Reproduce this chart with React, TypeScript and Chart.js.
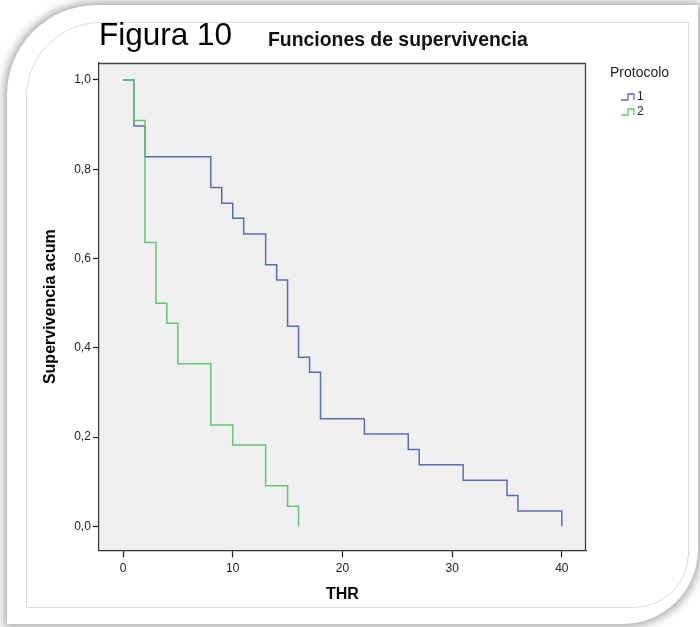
import React, { useEffect, useRef } from "react";
import { Chart, registerables } from "chart.js";

Chart.register(...registerables);

// Kaplan-Meier data
const times1 = [0, 1, 2, 8, 9, 10, 11, 13, 14, 15, 16, 17, 18, 22, 26, 27, 31, 35, 36, 40];
const surv1 = [1, 0.897, 0.828, 0.759, 0.724, 0.69, 0.655, 0.586, 0.552, 0.448, 0.379, 0.345, 0.241, 0.207, 0.172, 0.138, 0.103, 0.069, 0.034, 0];
const times2 = [0, 1, 2, 3, 4, 5, 8, 10, 13, 15, 16];
const surv2 = [1, 0.909, 0.636, 0.5, 0.455, 0.364, 0.227, 0.182, 0.091, 0.045, 0];
const groupLabels = ["1", "2"];
const xTicks = [0, 10, 20, 30, 40];
const yTicks = [0, 0.2, 0.4, 0.6, 0.8, 1.0];

const BLUE = "#5b6db2";
const GREEN = "#62c672";
const FONT = "'Liberation Sans', Arial, sans-serif";

const plotFrame = {
  id: "plotFrame",
  beforeDraw(chart: any) {
    const { ctx, chartArea } = chart;
    const { left, top, right, bottom } = chartArea;
    ctx.save();
    ctx.fillStyle = "#f0f0f0";
    ctx.fillRect(left, top, right - left, bottom - top);
    ctx.restore();
  },
  afterDraw(chart: any) {
    const { ctx, chartArea } = chart;
    const { left, top, right, bottom } = chartArea;
    ctx.save();
    ctx.strokeStyle = "#444";
    ctx.lineWidth = 1.3;
    ctx.beginPath();
    ctx.moveTo(left, top + 0.5);
    ctx.lineTo(right - 0.5, top + 0.5);
    ctx.lineTo(right - 0.5, bottom);
    ctx.stroke();
    ctx.restore();
  },
};

function StepIcon({ color }: { color: string }) {
  return (
    <svg width="15" height="8" style={{ display: "inline-block", verticalAlign: "middle" }}>
      <path d="M0 7 H7 V1 H13 V7" fill="none" stroke={color} strokeWidth="1.3" />
    </svg>
  );
}

export default function App() {
  const canvasRef = useRef<HTMLCanvasElement | null>(null);

  useEffect(() => {
    if (!canvasRef.current) return;
    const chart = new Chart(canvasRef.current, {
      type: "line",
      data: {
        datasets: [
          {
            label: groupLabels[0],
            data: times1.map((t, i) => ({ x: t, y: surv1[i] })),
            stepped: true,
            borderColor: BLUE,
            borderWidth: 1.5,
            pointRadius: 0,
            fill: false,
            order: 1,
          },
          {
            label: groupLabels[1],
            data: times2.map((t, i) => ({ x: t, y: surv2[i] })),
            stepped: true,
            borderColor: GREEN,
            borderWidth: 1.5,
            pointRadius: 0,
            fill: false,
            order: 0,
          },
        ],
      },
      options: {
        animation: false,
        responsive: false,
        maintainAspectRatio: false,
        layout: { padding: { top: 63, left: 27, right: 114, bottom: 13 } },
        plugins: { legend: { display: false }, tooltip: { enabled: false }, title: { display: false } },
        scales: {
          x: {
            type: "linear",
            min: -2.2,
            max: 42.2,
            afterBuildTicks: (s: any) => {
              s.ticks = xTicks.map((v) => ({ value: v }));
            },
            grid: { display: true, drawOnChartArea: false, drawTicks: true, tickLength: 7, tickColor: "#222", tickWidth: 1.2 },
            border: { display: true, color: "#333", width: 1.2 },
            ticks: {
              font: { family: FONT, size: 12 },
              color: "#222",
              padding: 4,
              maxRotation: 0,
              callback: (v: any) => String(v),
            },
            title: {
              display: true,
              text: "THR",
              font: { family: FONT, size: 16, weight: "bold" },
              color: "#000",
              padding: { top: 5, bottom: 10 },
            },
          },
          y: {
            type: "linear",
            min: -0.054,
            max: 1.038,
            afterBuildTicks: (s: any) => {
              s.ticks = yTicks.map((v) => ({ value: v }));
            },
            grid: { display: true, drawOnChartArea: false, drawTicks: true, tickLength: 6, tickColor: "#222", tickWidth: 1.2 },
            border: { display: true, color: "#333", width: 1.2 },
            ticks: {
              font: { family: FONT, size: 12 },
              color: "#222",
              padding: 2,
              callback: (v: any) => Number(v).toFixed(1).replace(".", ","),
            },
            title: {
              display: true,
              text: "Supervivencia acum",
              font: { family: FONT, size: 16, weight: "bold" },
              color: "#000",
              padding: { top: 14, bottom: 12 },
            },
          },
        },
      },
      plugins: [plotFrame],
    } as any);
    return () => chart.destroy();
  }, []);

  return (
    <div
      style={{
        position: "fixed",
        left: 0,
        top: 0,
        width: 700,
        height: 627,
        background: "#fff",
        overflow: "hidden",
        fontFamily: FONT,
      }}
    >
      <div
        style={{
          position: "absolute",
          left: 7,
          top: 5,
          width: 691,
          height: 619,
          background: "#fff",
          borderRadius: "90px 0 75px 0",
          boxShadow: "0 0 10px 3px rgba(0,0,0,0.34)",
        }}
      />
      <div
        style={{
          position: "absolute",
          left: 26,
          top: 22,
          width: 663,
          height: 586,
          border: "1px solid #dcdcdc",
          borderRadius: "75px 0 55px 0",
          boxSizing: "border-box",
        }}
      />
      <canvas
        ref={canvasRef}
        width={700}
        height={627}
        style={{ position: "absolute", left: 0, top: 0, width: 700, height: 627 }}
      />
      <div style={{ position: "absolute", left: 99, top: 19, fontSize: 31.5, lineHeight: "31.5px", color: "#000", whiteSpace: "nowrap" }}>
        Figura 10
      </div>
      <div
        style={{
          position: "absolute",
          left: 268,
          top: 30,
          fontSize: 19.4,
          lineHeight: "19.4px",
          fontWeight: "bold",
          color: "#111",
          whiteSpace: "nowrap",
        }}
      >
        Funciones de supervivencia
      </div>
      <div style={{ position: "absolute", left: 610, top: 64, fontSize: 14, lineHeight: "16px", color: "#222", whiteSpace: "nowrap" }}>
        Protocolo
      </div>
      <div style={{ position: "absolute", left: 621, top: 89, fontSize: 12, lineHeight: "15px", color: "#222", whiteSpace: "nowrap" }}>
        <div>
          <StepIcon color={BLUE} />
          <span style={{ marginLeft: 1 }}>{groupLabels[0]}</span>
        </div>
        <div>
          <StepIcon color={GREEN} />
          <span style={{ marginLeft: 1 }}>{groupLabels[1]}</span>
        </div>
      </div>
    </div>
  );
}
